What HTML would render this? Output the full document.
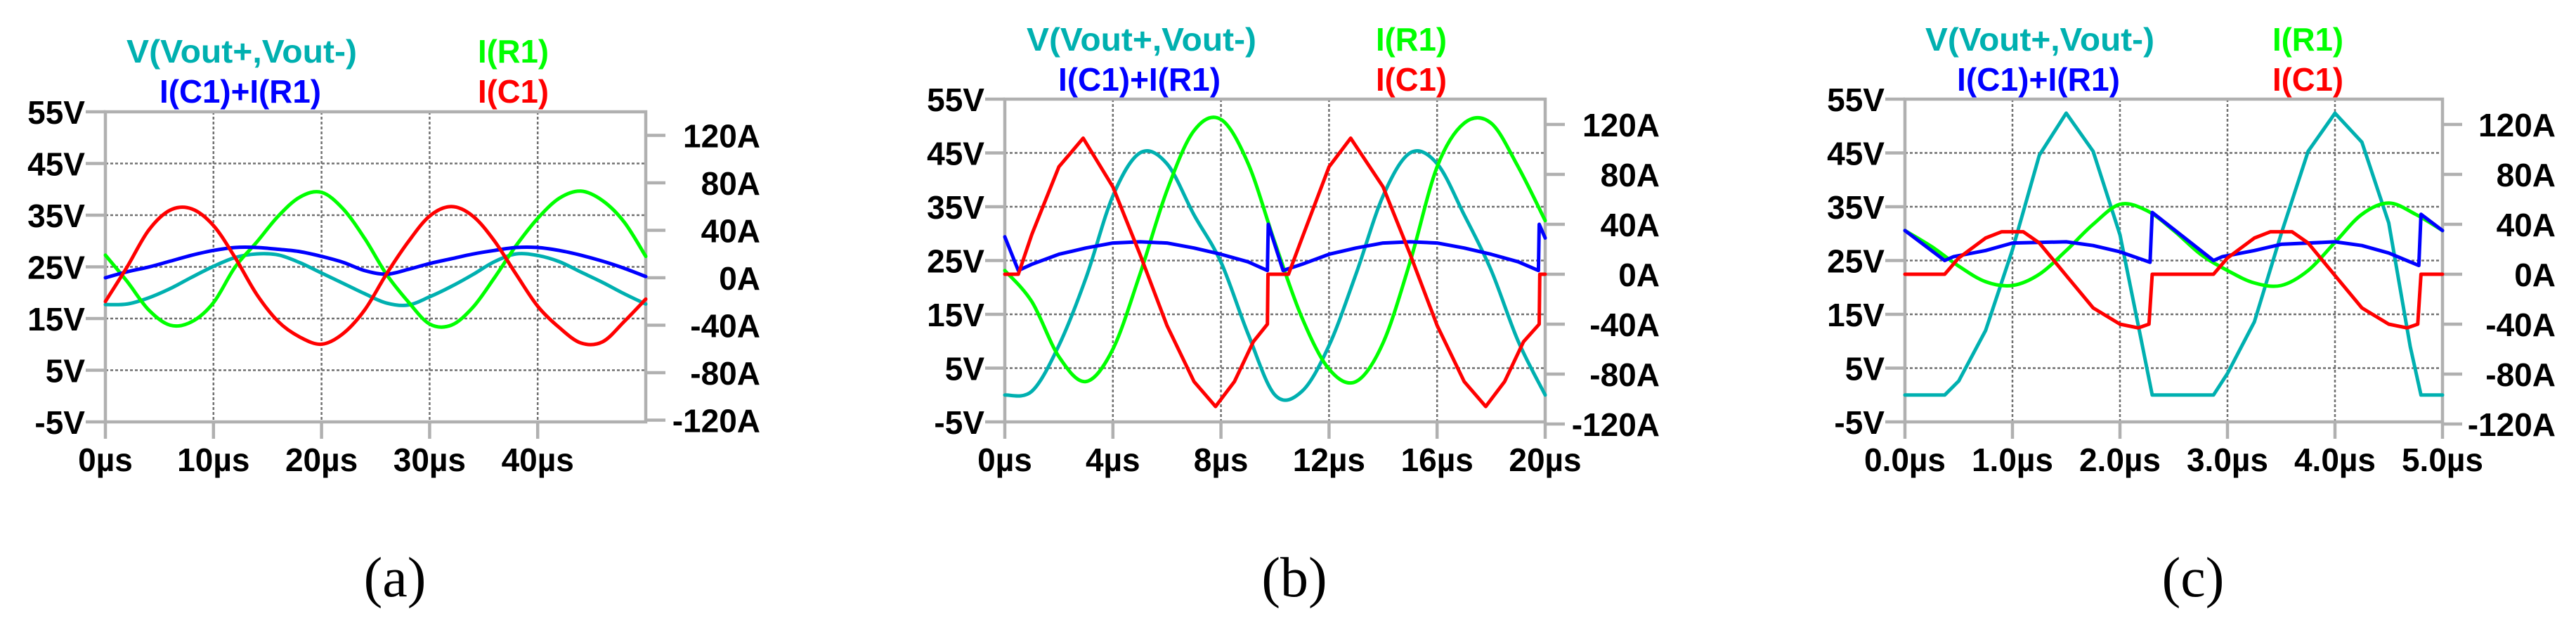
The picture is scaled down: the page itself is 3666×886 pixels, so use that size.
<!DOCTYPE html>
<html><head><meta charset="utf-8"><style>
html,body{margin:0;padding:0;background:#fff;}
svg{display:block;}
text{font-family:"Liberation Sans",Arial,sans-serif;font-weight:bold;}
.cap{font-family:"Liberation Serif","Times New Roman",serif;font-weight:normal;}
</style></head><body>
<svg id="fig" width="3666" height="886" viewBox="0 0 3666 886" xmlns="http://www.w3.org/2000/svg"></svg>
<script>
// ---------- Panel (a) data: time in µs ----------
const aTime = [0,2,4,6,8,10,12,14,16,18,20,22,24,26,28,30,32,34,36,38,40,42,44,46,48,50];
const aVout = [17.7,17.8,19.0,20.8,23.0,25.1,26.8,27.5,27.3,25.8,23.8,21.8,19.8,18.0,17.6,19.2,21.2,23.5,26.0,27.5,27.2,26.0,24.0,22.0,19.8,17.8];
const aIsum = [0,5,9,14,19,23,25.5,25.5,24,22,18,13,6,3,7,12,16,20,23,25.5,25.5,23,19,14,8,1];
const aIR1  = [19,-3,-27,-40,-37,-21,9,30,52,68,72,58,33,3,-20,-39,-40,-25,0,27,50,67,73,65,47,18];
const aIC1  = [-20,9,40,57,58,44,17,-14,-37,-50,-56,-47,-27,3,30,52,60,52,31,3,-24,-42,-55,-54,-37,-18];
const aXTicks = [0,10,20,30,40];
const aXLabels = ["0µs","10µs","20µs","30µs","40µs"];

// ---------- Panel (b) data ----------
const bTime = [0,1,2,3,4,5,6,7,8,9,10,11,12,13,14,15,16,17,18,19,20];
const bVout = [0,0.7,9.2,21.7,37,45,43,33.5,24.7,11.4,0,0.7,9.2,22.5,37,45,43,33.5,23.2,10,0];
const bIR1  = [3,-22,-66,-86,-60,0,67,115,124,89,25,-35,-76,-86,-55,10,86,121,121,86,43];
const bIC1Time = [0,0.5,1,2,2.9,4,5,6,7,7.8,8.5,9.2,9.72,9.74,10.5,11,12,12.8,14,15,16,17,17.8,18.5,19.2,19.78,19.8,20];
const bIC1  = [0,0,32,86,109,70,16,-41,-86,-106,-86,-54,-40,0,0,29,86,109,70,16,-41,-86,-106,-86,-54,-40,0,0];
const bIsumTime = [0,0.5,1,2,3,4,5,6,7,8,9,9.72,9.75,10.3,11,12,13,14,15,16,17,18,19,19.75,19.78,20];
const bIsum = [30,3,8,16,21,25,26,25,21,16,10,3,40,3,8,16,21,25,26,25,21,16,10,3,40,29];
const bXTicks = [0,4,8,12,16,20];
const bXLabels = ["0µs","4µs","8µs","12µs","16µs","20µs"];

// ---------- Panel (c) data ----------
const cVoutTime = [0,0.37,0.5,0.75,1.0,1.25,1.5,1.75,2.0,2.2,2.3,2.87,3.0,3.25,3.5,3.75,4.0,4.25,4.5,4.7,4.8,5];
const cVout = [0,0,2.6,12,27,44.6,52.4,45.3,29.8,10,0,0,4,13.6,30,45.3,52.4,47,32,9,0,0];
const cIR1Time = [0,0.25,0.5,0.75,1,1.25,1.5,1.75,2,2.25,2.5,2.75,3,3.25,3.5,3.75,4,4.25,4.5,4.75,5];
const cIR1 = [35,22,6.5,-6,-9,0,19,40,56,51,35,16,3,-7,-9,3,25.5,48,57,48,35];
const cIsumTime = [0,0.37,0.45,0.75,1.0,1.5,1.75,2.0,2.28,2.3,2.87,2.95,3.25,3.5,4.0,4.25,4.5,4.78,4.8,5];
const cIsum = [35,11,14,19,25,26,23,18,9.6,49.5,11,14,19,24,26,23,17,7,48,35];
const cIC1Time = [0,0.37,0.5,0.75,0.9,1.1,1.25,1.5,1.75,2.0,2.17,2.27,2.3,2.87,3.0,3.25,3.4,3.6,3.75,4.0,4.25,4.5,4.67,4.77,4.8,5];
const cIC1 = [0,0,13,29,34,34,25,-1,-27,-40,-43,-40,0,0,13,29,34,34,25,-1,-27,-40,-43,-40,0,0];
const cXTicks = [0,1,2,3,4,5];
const cXLabels = ["0.0µs","1.0µs","2.0µs","3.0µs","4.0µs","5.0µs"];

// shared axes
const vTicks = [55,45,35,25,15,5,-5];
const vLabels = ["55V","45V","35V","25V","15V","5V","-5V"];
const aTicksA = [120,80,40,0,-40,-80,-120];
const aLabelsA = ["120A","80A","40A","0A","-40A","-80A","-120A"];

const NS = "http://www.w3.org/2000/svg";
const svg = document.getElementById('fig');
function mk(tag, attrs, parent){
  const e = document.createElementNS(NS, tag);
  for (const k in attrs) e.setAttribute(k, attrs[k]);
  (parent||svg).appendChild(e);
  return e;
}
const COL = {v:"#00b0b0", sum:"#0000ff", r1:"#00ff00", c1:"#ff0000"};

function panel(p){
  const g = mk('g', {});
  
  
  const xs = t => p.L + (t - p.t0) / (p.t1 - p.t0) * (p.R - p.L);
  const yv = v => p.T + (55 - v) * (p.B - p.T) / 60;
  const ya = a => p.zeroA - a * p.pxPerA;
  for (let i = 1; i < vTicks.length - 1; i++) {
    const l = mk('line', {x1:p.L, x2:p.R, y1:yv(vTicks[i]), y2:yv(vTicks[i]), stroke:"#707070", 'stroke-width':2.5, 'stroke-dasharray':"4 3"}, g);
    
    
  }
  p.xt.forEach(t => {
    if (t > p.t0 && t < p.t1) {
      const l = mk('line', {x1:xs(t), x2:xs(t), y1:p.T, y2:p.B, stroke:"#707070", 'stroke-width':2.5, 'stroke-dasharray':"4 3"}, g);
      
      
    }
  });
  const fr = mk('rect', {x:p.L, y:p.T, width:p.R-p.L, height:p.B-p.T, fill:"none", stroke:"#b0b0b0", 'stroke-width':4.5}, g);
  
  
  vTicks.forEach((v, i) => {
    mk('line', {x1:p.L-28, x2:p.L, y1:yv(v), y2:yv(v), stroke:"#b0b0b0", 'stroke-width':4.5}, g);
    const t = mk('text', {x:p.L-29, y:yv(v)+17, 'text-anchor':"end", 'font-size':46, fill:"#000"}, g);
    t.textContent = vLabels[i];
    
    
  });
  aTicksA.forEach((a, i) => {
    mk('line', {x1:p.R, x2:p.R+28, y1:ya(a), y2:ya(a), stroke:"#b0b0b0", 'stroke-width':4.5}, g);
    const t = mk('text', {x:p.R+p.rOff, y:ya(a)+17, 'text-anchor':"end", 'font-size':46, fill:"#000"}, g);
    t.textContent = aLabelsA[i];
    
    
  });
  p.xt.forEach((tv, i) => {
    mk('line', {x1:xs(tv), x2:xs(tv), y1:p.B, y2:p.B+24, stroke:"#b0b0b0", 'stroke-width':4.5}, g);
    const t = mk('text', {x:xs(tv), y:670, 'text-anchor':"middle", 'font-size':46, fill:"#000"}, g);
    t.textContent = p.xl[i];
    
    
  });
  function series(ts, vals, yf, col, name, smooth){
    const P = ts.map((t, i) => [xs(t), yf(vals[i])]);
    let d = 'M' + P[0][0].toFixed(1) + ',' + P[0][1].toFixed(1);
    for (let i = 1; i < P.length; i++) {
      if (smooth) {
        const p0 = P[Math.max(0, i-2)], p1 = P[i-1], p2 = P[i], p3 = P[Math.min(P.length-1, i+1)];
        const c1x = p1[0] + (p2[0]-p0[0])/6, c1y = p1[1] + (p2[1]-p0[1])/6;
        const c2x = p2[0] - (p3[0]-p1[0])/6, c2y = p2[1] - (p3[1]-p1[1])/6;
        d += 'C' + c1x.toFixed(1) + ',' + c1y.toFixed(1) + ' ' + c2x.toFixed(1) + ',' + c2y.toFixed(1) + ' ' + p2[0].toFixed(1) + ',' + p2[1].toFixed(1);
      } else {
        d += 'L' + P[i][0].toFixed(1) + ',' + P[i][1].toFixed(1);
      }
    }
    const path = mk('path', {d:d, fill:"none", stroke:col, 'stroke-width':5, 'stroke-linejoin':"round", 'stroke-linecap':"round"}, g);
    
    
  }
  series(p.vT, p.v, yv, COL.v, 'series-vout', p.sm[0]);
  series(p.r1T, p.r1, ya, COL.r1, 'series-i-r1', p.sm[1]);
  series(p.sT, p.s, ya, COL.sum, 'series-i-c1-plus-i-r1', p.sm[2]);
  series(p.c1T, p.c1, ya, COL.c1, 'series-i-c1', p.sm[3]);
  const legend = [
    ["V(Vout+,Vout-)", p.lg[0], p.lg[1], p.lg[2], COL.v, 'legend-vout'],
    ["I(C1)+I(R1)", p.lg[3], p.lg[4], p.lg[5], COL.sum, 'legend-i-sum'],
    ["I(R1)", p.lg[6], p.lg[1], 101, COL.r1, 'legend-i-r1'],
    ["I(C1)", p.lg[6], p.lg[4], 101, COL.c1, 'legend-i-c1']
  ];
  legend.forEach(L => {
    const t = mk('text', {x:L[1], y:L[2], 'font-size':46, fill:L[4], textLength:L[3], lengthAdjust:"spacingAndGlyphs"}, g);
    t.textContent = L[0];
    
    
  });
  const cap = mk('text', {x:p.capX, y:848, 'text-anchor':"middle", 'font-size':80, fill:"#000", class:"cap"}, g);
  cap.textContent = '(' + p.id + ')';
  
  
}

panel({id:'a', L:150, R:919, T:159, B:600, t0:0, t1:50, zeroA:395, pxPerA:1.6875, rOff:163,
  xt:aXTicks, xl:aXLabels, vT:aTime, v:aVout, r1T:aTime, r1:aIR1, sT:aTime, s:aIsum, c1T:aTime, c1:aIC1,
  sm:[true,true,true,true], lg:[180,89,328,227,146,230,680], capX:562});
panel({id:'b', L:1430, R:2199, T:141, B:600, t0:0, t1:20, zeroA:390, pxPerA:1.775, rOff:163,
  xt:bXTicks, xl:bXLabels, vT:bTime, v:bVout, r1T:bTime, r1:bIR1, sT:bIsumTime, s:bIsum, c1T:bIC1Time, c1:bIC1,
  sm:[true,true,false,false], lg:[1461,72,327,1506,129,231,1958], capX:1842});
panel({id:'c', L:2711, R:3476, T:141, B:600, t0:0, t1:5, zeroA:390, pxPerA:1.775, rOff:161,
  xt:cXTicks, xl:cXLabels, vT:cVoutTime, v:cVout, r1T:cIR1Time, r1:cIR1, sT:cIsumTime, s:cIsum, c1T:cIC1Time, c1:cIC1,
  sm:[false,true,false,false], lg:[2740,72,326,2785,129,232,3234], capX:3121});
</script>
</body></html>
